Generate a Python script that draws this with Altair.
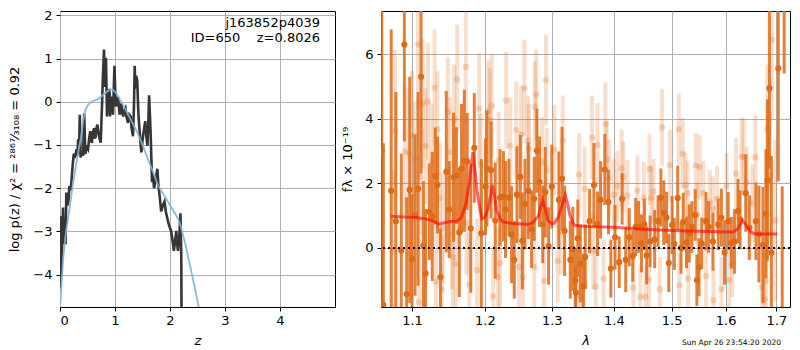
import altair as alt
import pandas as pd

# ---------------- left panel: redshift PDF ----------------
z_chi = [0.000, 0.010, 0.025, 0.040, 0.055, 0.070, 0.085, 0.100, 0.115, 0.135, 0.155, 0.170, 0.190, 0.205,
         0.225, 0.250, 0.270, 0.300, 0.315, 0.330, 0.345, 0.360, 0.375, 0.395, 0.420, 0.440, 0.460, 0.485,
         0.510, 0.530, 0.550, 0.565, 0.580, 0.600, 0.620, 0.635, 0.650, 0.665, 0.680, 0.700, 0.720, 0.740,
         0.755, 0.765, 0.780, 0.800, 0.818, 0.836, 0.855, 0.870, 0.885, 0.900, 0.909, 0.920, 0.933, 0.950,
         0.964, 0.980, 0.990, 1.005, 1.018, 1.035, 1.055, 1.070, 1.085, 1.100, 1.115, 1.130, 1.150, 1.170,
         1.190, 1.210, 1.236, 1.260, 1.285, 1.300, 1.327, 1.345, 1.358, 1.370, 1.385, 1.405, 1.420, 1.430,
         1.455, 1.479, 1.500, 1.520, 1.550, 1.570, 1.590, 1.605, 1.620, 1.635, 1.650, 1.673, 1.690, 1.710,
         1.740, 1.770, 1.790, 1.810, 1.840, 1.870, 1.900, 1.925, 1.950, 1.980, 2.020, 2.045, 2.070, 2.095,
         2.115, 2.130, 2.145, 2.170, 2.190, 2.205, 2.212]
lp_chi = [-4.30, -2.65, -4.05, -3.20, -2.45, -3.30, -2.90, -3.30, -2.10, -2.40, -2.30, -1.95, -2.05, -1.90,
          -1.55, -1.20, -1.30, -1.10, -1.25, -0.87, -1.20, -0.30, -1.29, -1.15, -1.25, -0.27, -1.21, -1.05,
          -1.10, -0.85, -0.68, -0.90, -0.95, -0.70, -0.61, -0.85, -0.80, -0.60, -0.53, -0.72, -0.85, -0.95,
          -0.40, -0.04, 0.57, 1.21, 0.34, 1.02, -0.34, 0.20, 0.11, 0.30, -0.34, 0.00, 0.04, -0.10,
          -0.30, 0.40, 0.83, 0.20, -0.11, 0.00, 0.11, -0.10, -0.30, -0.15, -0.04, -0.25, -0.34, -0.20,
          -0.15, -0.35, -0.49, -0.30, -0.34, -0.60, -0.80, -0.10, 0.83, 0.30, 0.60, 0.49, -0.10, -0.38,
          -0.80, -1.17, -0.90, -0.70, -0.45, -0.80, -1.02, -0.50, 0.15, -0.30, -0.80, -1.86, -1.70, -2.00,
          -1.80, -1.55, -1.95, -2.16, -2.54, -2.40, -2.31, -2.55, -2.69, -2.85, -2.99, -3.20, -3.45, -3.20,
          -2.99, -3.30, -3.45, -3.10, -2.58, -3.60, -5.50]

z_prior = [0.00, 0.02, 0.06, 0.10, 0.17, 0.23, 0.29, 0.34, 0.38, 0.42, 0.46, 0.51, 0.57, 0.63, 0.69, 0.74,
           0.80, 0.86, 0.92, 0.96, 1.02, 1.08, 1.15, 1.22, 1.30, 1.36, 1.42, 1.50, 1.60, 1.70, 1.78, 1.87,
           1.96, 2.05, 2.145, 2.20, 2.24, 2.29, 2.33, 2.40, 2.45, 2.53]
lp_prior = [-4.75, -4.40, -3.60, -3.10, -2.50, -1.95, -1.48, -1.10, -0.85, -0.45, -0.20, -0.07, 0.00, 0.03,
            0.06, 0.11, 0.18, 0.24, 0.28, 0.28, 0.20, 0.07, -0.08, -0.25, -0.45, -0.60, -0.75, -1.00, -1.33,
            -1.65, -1.93, -2.12, -2.31, -2.50, -2.70, -2.90, -3.10, -3.35, -3.60, -4.00, -4.30, -4.80]

z_ticks = [0, 1, 2, 3, 4]
lp_ticks = [-4, -3, -2, -1, 0, 1, 2]
label_name = "j163852p4039"
label_id = "ID=650\u00a0\u00a0\u00a0\u00a0z=0.8026"

# ---------------- right panel: spectrum ----------------
w_dark = [1.061, 1.063, 1.073, 1.079, 1.086, 1.090, 1.093, 1.097, 1.100, 1.104, 1.108, 1.112, 1.115, 1.118,
          1.123, 1.127, 1.131, 1.134, 1.138, 1.146, 1.150, 1.156, 1.160, 1.164, 1.167, 1.171, 1.175, 1.180,
          1.185, 1.195, 1.201, 1.203, 1.209, 1.215, 1.222, 1.227, 1.230, 1.235, 1.239, 1.243, 1.247, 1.252,
          1.255, 1.259, 1.264, 1.269, 1.273, 1.277, 1.281, 1.286, 1.290, 1.295, 1.300, 1.311, 1.316, 1.320,
          1.329, 1.333, 1.337, 1.338, 1.341, 1.345, 1.350, 1.353, 1.360, 1.367, 1.373, 1.378, 1.385, 1.391,
          1.395, 1.402, 1.409, 1.414, 1.420, 1.426, 1.432, 1.437, 1.442, 1.447, 1.452, 1.456, 1.462, 1.470,
          1.476, 1.481, 1.486, 1.491, 1.495, 1.501, 1.505, 1.511, 1.517, 1.521, 1.527, 1.532, 1.537, 1.543,
          1.546, 1.550, 1.555, 1.563, 1.568, 1.576, 1.586, 1.592, 1.598, 1.605, 1.611, 1.617, 1.624, 1.628,
          1.639, 1.646, 1.659, 1.665, 1.673, 1.679, 1.682, 1.686, 1.690, 1.704, 1.712, 1.716]
f_dark = [3.00, -1.76, 1.77, 0.83, -0.08, 6.30, -1.43, 1.80, -0.34, 1.02, 1.83, 5.30, 0.07, -0.79,
          1.12, 0.98, 2.23, 1.95, -0.90, 2.36, 1.19, 2.19, 2.24, 0.48, 2.46, 2.70, 2.68, 0.61,
          3.10, 0.45, 1.90, 2.46, 2.41, 0.85, 1.56, 1.60, 1.19, 1.56, 0.41, -0.37, 1.65, 2.20,
          0.22, 1.36, 1.77, 0.58, 1.52, 3.01, 2.05, 0.73, 1.73, 0.06, 1.90, 1.49, 2.15, 0.53,
          -0.37, -0.03, -1.00, -1.38, 0.30, -0.49, -1.18, -0.28, 0.83, 1.95, 0.75, 1.49, 2.43, 1.42,
          -0.64, 0.33, -0.44, 1.52, -0.37, 0.33, -0.25, 0.65, 0.65, 0.14, 0.73, -0.23, 0.20, 0.27,
          0.83, 1.56, 1.09, 0.94, -0.47, 0.71, 0.12, 1.55, 0.00, 0.81, 0.17, 0.45, 0.65, 1.02,
          -1.00, -0.60, 0.14, 0.83, 0.65, 0.20, 0.73, 0.94, -0.14, 0.83, 0.16, 0.20, 1.14, 0.88,
          1.70, 0.63, 0.83, 0.43, 0.09, 1.06, 2.10, 4.95, -0.15, 5.56, -3.00, 11.00]
e_dark = [6.0, 5.0, 5.0, 4.0, 3.0, 3.0, 3.0, 3.5, 2.0, 2.5, 3.0, 3.0, 2.0, 2.0,
          1.5, 2.0, 1.5, 1.5, 1.5, 2.5, 1.5, 2.0, 1.5, 2.0, 2.0, 2.2, 1.5, 2.0,
          1.7, 2.3, 1.5, 1.8, 1.5, 1.8, 1.5, 1.4, 1.5, 1.2, 1.5, 1.2, 1.5, 1.3,
          1.5, 1.4, 1.5, 1.2, 1.3, 1.3, 1.4, 1.2, 1.4, 1.2, 1.3, 1.5, 1.6, 1.4,
          1.2, 1.3, 1.0, 0.8, 1.2, 1.2, 1.0, 1.0, 1.0, 1.3, 1.0, 1.2, 1.1, 1.0,
          0.9, 1.0, 0.8, 0.8, 1.0, 0.9, 0.8, 0.9, 0.8, 0.9, 0.8, 0.9, 0.8, 0.9,
          0.8, 0.9, 1.0, 0.8, 0.9, 0.9, 0.8, 1.0, 0.8, 0.9, 0.8, 0.9, 0.8, 0.8,
          0.8, 0.9, 0.8, 0.9, 0.8, 0.9, 0.8, 0.9, 1.0, 0.9, 0.8, 1.0, 1.0, 0.9,
          1.2, 1.0, 1.2, 1.5, 1.8, 2.0, 2.5, 2.5, 3.0, 3.5, 4.9, 5.6]

w_light = [1.076, 1.078, 1.091, 1.096, 1.100, 1.104, 1.108, 1.109, 1.111, 1.114, 1.118, 1.121, 1.126, 1.130,
           1.132, 1.134, 1.137, 1.140, 1.141, 1.148, 1.151, 1.154, 1.155, 1.157, 1.159, 1.161, 1.173, 1.174,
           1.178, 1.189, 1.192, 1.194, 1.205, 1.207, 1.210, 1.212, 1.219, 1.220, 1.222, 1.231, 1.237, 1.246,
           1.250, 1.253, 1.256, 1.258, 1.263, 1.265, 1.273, 1.274, 1.276, 1.285, 1.288, 1.291, 1.292, 1.304,
           1.309, 1.314, 1.317, 1.343, 1.345, 1.350, 1.352, 1.364, 1.366, 1.370, 1.373, 1.383, 1.386, 1.388,
           1.392, 1.400, 1.406, 1.413, 1.416, 1.423, 1.433, 1.440, 1.445, 1.451, 1.454, 1.460, 1.461, 1.464,
           1.468, 1.479, 1.483, 1.497, 1.513, 1.514, 1.520, 1.525, 1.529, 1.530, 1.544, 1.547, 1.551, 1.558,
           1.563, 1.570, 1.576, 1.577, 1.584, 1.592, 1.602, 1.607, 1.613, 1.620, 1.631, 1.635, 1.641, 1.652,
           1.658, 1.671, 1.676, 1.679, 1.682, 1.687, 1.691, 1.698]
f_light = [-0.08, 3.63, 2.99, 2.92, 3.48, 2.76, 6.30, -1.68, 2.20, 4.47, 3.15, 4.54, 2.68, 4.96,
           -1.05, 3.68, 1.55, -1.30, 0.61, 4.21, 2.97, 0.43, -0.28, 3.98, -0.49, 5.22, 5.61, 0.78,
           -1.13, -0.69, 4.32, 2.56, 4.24, 3.96, 4.41, -1.50, -0.90, 2.71, -0.47, 4.57, 3.17, 3.66,
           -0.59, 3.51, -0.91, 4.95, 3.32, 3.07, -0.59, 4.37, 4.75, 2.66, -1.02, 5.20, 2.41, 3.04,
           -0.41, 0.48, 3.32, 2.26, -1.50, -1.15, 1.83, 3.42, -0.08, -1.20, 3.19, -0.95, 3.83, 2.74,
           2.16, 1.65, 1.90, 2.46, 2.20, 1.62, -1.23, 1.77, -1.52, 1.56, -1.52, -0.98, 2.44, 1.55,
           1.75, -1.28, 3.73, 2.56, 3.68, -1.16, 2.92, 1.95, 1.70, -0.95, 2.56, 1.04, 2.50, 1.70,
           -0.87, 1.42, 1.22, -1.62, 1.52, -1.28, 1.93, -1.00, -0.52, 2.30, 2.83, 2.81, 2.03, 1.39,
           2.81, -1.22, -1.59, -1.02, 3.68, 2.23, 6.45, 0.85]
e_light = [2.5, 2.5, 2.0, 2.0, 2.0, 1.8, 2.0, 2.0, 1.8, 2.0, 1.8, 1.8, 1.8, 1.8,
           1.8, 1.8, 1.7, 1.7, 1.7, 1.7, 1.7, 1.7, 1.6, 1.7, 1.6, 1.7, 1.8, 1.6,
           1.6, 1.6, 1.7, 1.6, 1.6, 1.6, 1.6, 1.5, 1.5, 1.5, 1.5, 1.5, 1.5, 1.5,
           1.4, 1.5, 1.4, 1.5, 1.4, 1.4, 1.4, 1.4, 1.4, 1.4, 1.4, 1.4, 1.3, 1.4,
           1.3, 1.3, 1.4, 1.3, 1.2, 1.2, 1.3, 1.3, 1.2, 1.2, 1.3, 1.2, 1.3, 1.2,
           1.2, 1.1, 1.1, 1.2, 1.1, 1.1, 1.1, 1.1, 1.0, 1.1, 1.0, 1.0, 1.1, 1.0,
           1.0, 1.0, 1.2, 1.1, 1.1, 1.0, 1.1, 1.0, 1.0, 1.0, 1.0, 1.0, 1.0, 1.0,
           1.0, 1.0, 1.0, 1.0, 1.0, 1.0, 1.0, 1.0, 1.0, 1.1, 1.2, 1.2, 1.1, 1.2,
           1.3, 1.4, 1.5, 1.6, 2.0, 2.0, 2.5, 2.5]

w_model = [1.073, 1.090, 1.105, 1.118, 1.128, 1.136, 1.142, 1.152, 1.161, 1.167, 1.173, 1.178, 1.183, 1.186,
           1.189, 1.193, 1.196, 1.200, 1.205, 1.211, 1.214, 1.217, 1.222, 1.227, 1.240, 1.255, 1.264, 1.272,
           1.279, 1.286, 1.290, 1.294, 1.300, 1.304, 1.310, 1.315, 1.321, 1.325, 1.328, 1.332, 1.336, 1.360,
           1.400, 1.450, 1.500, 1.550, 1.600, 1.615, 1.624, 1.633, 1.643, 1.650, 1.659, 1.702]
f_model = [0.98, 0.96, 0.94, 0.90, 0.84, 0.74, 0.77, 0.82, 0.83, 0.95, 1.34, 2.00, 2.97, 2.40,
           1.75, 1.20, 0.90, 0.95, 1.24, 1.95, 1.60, 1.17, 0.90, 0.80, 0.76, 0.74, 0.73, 0.80,
           0.98, 1.49, 1.20, 0.85, 0.75, 0.77, 0.95, 1.24, 1.64, 1.35, 1.05, 0.82, 0.70, 0.66,
           0.64, 0.58, 0.54, 0.52, 0.49, 0.49, 0.60, 0.85, 0.63, 0.48, 0.43, 0.43]

w_ticks = [1.1, 1.2, 1.3, 1.4, 1.5, 1.6, 1.7]
f_ticks = [0, 2, 4, 6]
timestamp = "Sun Apr 26 23:54:20 2020"

ORANGE = "#de6b18"
FONT = "DejaVu Sans"
H = 296

# ---------- left chart ----------
zscale = alt.Scale(domain=[0, 5.0], nice=False, zero=False)
lpscale = alt.Scale(domain=[-4.75, 2.1], nice=False, zero=False)
zaxis = alt.Axis(values=z_ticks, title="z", titleFontStyle="italic", titlePadding=7, labelPadding=3)
lpaxis = alt.Axis(values=lp_ticks, title="log p(z) / χ² = ²⁸⁶⁷⁄₃₁₀₈ = 0.92", titlePadding=11, labelPadding=4)

dchi = pd.DataFrame({"z": z_chi, "lp": lp_chi})
dpri = pd.DataFrame({"z": z_prior, "lp": lp_prior})

chi_line = alt.Chart(dchi).mark_line(color="#363636", strokeWidth=2.6, clip=True).encode(
    x=alt.X("z:Q", scale=zscale, axis=zaxis), y=alt.Y("lp:Q", scale=lpscale, axis=lpaxis))
pri_line = alt.Chart(dpri).mark_line(color="#7fb2d9", strokeWidth=1.8, opacity=0.9, clip=True).encode(
    x=alt.X("z:Q", scale=zscale, axis=zaxis), y=alt.Y("lp:Q", scale=lpscale, axis=lpaxis))
t1 = alt.Chart(pd.DataFrame({"t": [label_name]})).mark_text(
    align="right", baseline="middle", font=FONT, fontSize=13, color="black").encode(
    x=alt.value(260), y=alt.value(12), text="t:N")
t2 = alt.Chart(pd.DataFrame({"t": [label_id]})).mark_text(
    align="right", baseline="middle", font=FONT, fontSize=13, color="black").encode(
    x=alt.value(260), y=alt.value(27), text="t:N")

left = alt.layer(chi_line, pri_line, t1, t2).properties(width=275, height=H)

# ---------- right chart ----------
wscale = alt.Scale(type="log", domain=[1.06, 1.728], nice=False, zero=False)
fscale = alt.Scale(domain=[-1.83, 7.34], nice=False, zero=False)
waxis = alt.Axis(values=w_ticks, format=".1f", title="λ", titleFontStyle="italic", titlePadding=7, labelPadding=3)
faxis = alt.Axis(values=f_ticks, title="fλ × 10⁻¹⁹", titlePadding=10, labelPadding=4)

dd = pd.DataFrame({"w": w_dark, "f": f_dark, "e": e_dark})
dl = pd.DataFrame({"w": w_light, "f": f_light, "e": e_light})
dm = pd.DataFrame({"w": w_model, "f": f_model})

X = alt.X("w:Q", scale=wscale, axis=waxis)

light_err = alt.Chart(dl).transform_calculate(lo="datum.f - datum.e", hi="datum.f + datum.e").mark_rule(
    color=ORANGE, opacity=0.22, strokeWidth=4, clip=True).encode(
    x=X, y=alt.Y("lo:Q", scale=fscale, axis=faxis), y2="hi:Q")
light_pts = alt.Chart(dl).mark_circle(color=ORANGE, opacity=0.25, size=40, clip=True).encode(
    x=X, y=alt.Y("f:Q", scale=fscale, axis=faxis))
dark_err = alt.Chart(dd).transform_calculate(lo="datum.f - datum.e", hi="datum.f + datum.e").mark_rule(
    color=ORANGE, opacity=0.85, strokeWidth=3, clip=True).encode(
    x=X, y=alt.Y("lo:Q", scale=fscale, axis=faxis), y2="hi:Q")
dark_pts = alt.Chart(dd).mark_circle(color=ORANGE, opacity=1, size=38, clip=True).encode(
    x=X, y=alt.Y("f:Q", scale=fscale, axis=faxis))
model = alt.Chart(dm).mark_line(color="#ff0000", opacity=0.6, strokeWidth=3, clip=True).encode(
    x=X, y=alt.Y("f:Q", scale=fscale, axis=faxis))
zero = alt.Chart(pd.DataFrame({"f": [0]})).mark_rule(
    color="black", strokeDash=[2, 3], strokeWidth=2).encode(y=alt.Y("f:Q", scale=fscale, axis=faxis))
stamp = alt.Chart(pd.DataFrame({"t": [timestamp]})).mark_text(
    align="right", baseline="middle", font=FONT, fontSize=7.5, color="black").encode(
    x=alt.value(400), y=alt.value(332), text="t:N")

right = alt.layer(light_err, light_pts, dark_err, dark_pts, model, zero, stamp).properties(width=409, height=H)

chart = alt.hconcat(left, right, spacing=5).properties(
    padding={"left": 0, "top": 0, "right": 0, "bottom": 0}
).configure_view(stroke="black", strokeWidth=1).configure_axis(
    labelFont=FONT, labelFontSize=13, labelColor="black", titleFont=FONT, titleFontSize=13,
    titleFontWeight="normal", titleColor="black", tickColor="black", tickSize=4, domain=False,
    gridColor="#b0b0b0", gridWidth=1, gridOpacity=1
)

chart.save("out.html", embed_options={"renderer": "svg", "actions": False})
